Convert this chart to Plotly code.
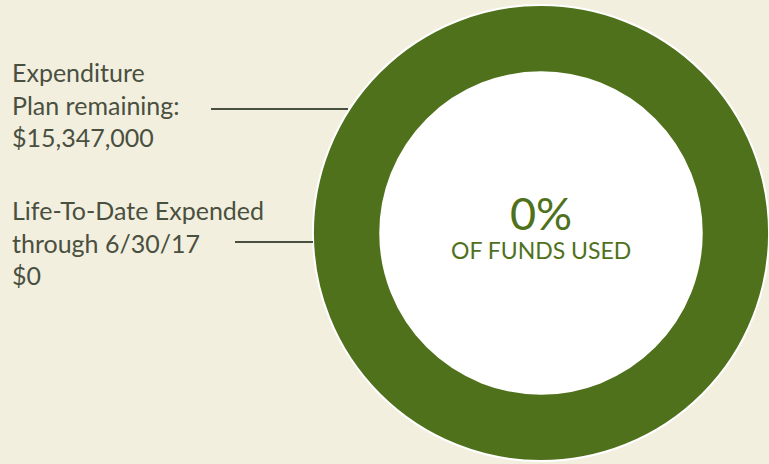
import plotly.graph_objects as go

labels = ["Life-To-Date Expended", "Expenditure Plan remaining"]
values = [0, 15347000]
colors = ["#4f711b", "#4f711b"]
pct_used = "0%"
center_sub = "OF FUNDS USED"
label_texts = [
    "Life-To-Date Expended<br>through 6/30/17<br>$0",
    "Expenditure<br>Plan remaining:<br>$15,347,000",
]

BG = "#f2efdf"
TXT = "#4a5040"
W, H = 769, 464
cx, cy, R, HOLE = 541, 233, 228, 0.705

fig = go.Figure(go.Pie(
    labels=labels, values=values, hole=HOLE, sort=False, direction="clockwise",
    marker=dict(colors=colors, line=dict(color="white", width=2)),
    textinfo="none", hoverinfo="label+value", showlegend=False,
    domain=dict(x=[(cx - R) / W, (cx + R) / W], y=[1 - (cy + R) / H, 1 - (cy - R) / H]),
))

r_in = R * HOLE
fig.add_shape(type="circle", xref="paper", yref="paper", layer="below",
              x0=(cx - r_in) / W, x1=(cx + r_in) / W, y0=1 - (cy + r_in) / H, y1=1 - (cy - r_in) / H,
              fillcolor="white", line=dict(width=0))

font_fam = "Lato, 'Open Sans', sans-serif"
fig.add_annotation(x=cx / W, y=1 - 213 / H, xref="paper", yref="paper", text=pct_used,
                   showarrow=False, xanchor="center", yanchor="middle",
                   font=dict(family=font_fam, size=45, color="#4f711b"))
fig.add_annotation(x=cx / W, y=1 - 250 / H, xref="paper", yref="paper", text=center_sub,
                   showarrow=False, xanchor="center", yanchor="middle",
                   font=dict(family=font_fam, size=23, color="#4f711b"))

fig.add_annotation(x=10 / W, y=1 - 104 / H, xref="paper", yref="paper", text=label_texts[1],
                   showarrow=False, xanchor="left", yanchor="middle", align="left",
                   font=dict(family=font_fam, size=25, color=TXT))
fig.add_annotation(x=10 / W, y=1 - 243 / H, xref="paper", yref="paper", text=label_texts[0],
                   showarrow=False, xanchor="left", yanchor="middle", align="left",
                   font=dict(family=font_fam, size=25, color=TXT))

fig.add_shape(type="line", xref="paper", yref="paper", x0=211 / W, x1=348 / W,
              y0=1 - 109 / H, y1=1 - 109 / H, line=dict(color=TXT, width=2))
fig.add_shape(type="line", xref="paper", yref="paper", x0=235 / W, x1=313 / W,
              y0=1 - 242 / H, y1=1 - 242 / H, line=dict(color=TXT, width=2))

fig.update_layout(width=W, height=H, margin=dict(l=0, r=0, t=0, b=0),
                  paper_bgcolor=BG, plot_bgcolor=BG)
fig.write_html("out.html")
